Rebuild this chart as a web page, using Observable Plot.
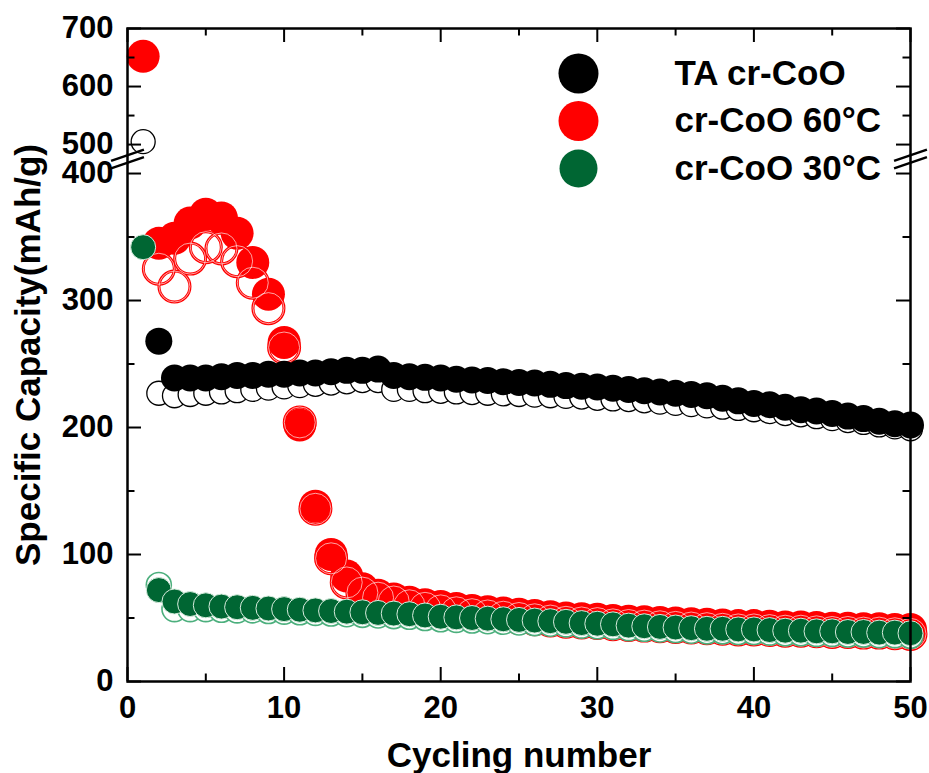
<!DOCTYPE html>
<html>
<head>
<meta charset="utf-8">
<script src="https://cdn.jsdelivr.net/npm/d3@7"></script>
<script src="https://cdn.jsdelivr.net/npm/@observablehq/plot@0.6"></script>
<style>
  html, body { margin: 0; padding: 0; background: #fff; }
  #chart { width: 929px; height: 773px; }
</style>
</head>
<body>
<div id="chart"></div>
<script>
// ---------- data ----------
const cycles = [1,2,3,4,5,6,7,8,9,10,11,12,13,14,15,16,17,18,19,20,21,22,23,24,25,26,27,28,29,30,31,32,33,34,35,36,37,38,39,40,41,42,43,44,45,46,47,48,49,50];

const taFilled = [null,268,239,239,239,240,241,241,242,242,243,243,244,245,245,246,241,240,239.5,239,238,237.5,237,236,235.5,235,234,233,232.5,232,231,230,229,228,227,226,225,223,221,219,218,216,214,213,211,209,207,205,203,202];
const taOpen = [505,227,225,226,227,228,229,230,231,232,233,234,235,236,237,237,230,230,229,228.5,228,227.5,227,226.5,226,225.5,225,224.5,224,223,222.5,222,221,220,219,218,217,216,215,214,212.5,211,210,208.5,207,205.5,204,202,200.5,199];

const c60Filled = [652,345,349,361,368,365,353,330,305,267,202,138,100,83,73,68,65,62.5,60.5,59,57.5,56,55,54,53,52,51,50,49.5,49,48,47.5,47,46.5,46,45.5,45,44.5,44,44,43.5,43,43,42.5,42,42,41.5,41.5,41,41];
const c60Open = [null,325,311,333,342,341,331,314,294,263,204,136,97,78,70,66,63,60,58,56,54.5,53,52,51,50,49,48,47,46.5,46,45,44.5,44,43.5,43,42.5,42,41.5,41,41,40.5,40,40,39.5,39,39,38.5,38.5,38,37.5];

const c30Filled = [342,72,63,61,60,59,58.5,58,57.5,57,56.5,56,55.5,55,54.5,54,53.5,53,52,51,50.5,50,49.5,49,48.5,48,47.5,47,46,45.5,45,44,43.5,43,42.5,42,41.5,41.5,41,41,40.5,40,40,39.5,39.5,39,39,38.5,38.5,38];
const c30Open = [null,76,57,57,57,56.5,56,56,55.5,55,54.5,54,53.5,53,52.5,52,51.5,51,50,49,48.5,48,47.5,47,46.5,46,45.5,45,44,43.5,43,42,41.5,41,40.5,40,39.5,39.5,39,39,38.5,38,38,37.5,37.5,37,37,36.5,36.5,36];

const legendLabels = ["TA cr-CoO", "cr-CoO 60°C", "cr-CoO 30°C"];
const legendColors = ["#000000", "#ff0000", "#006633"];

const xMajorTicks = [0,10,20,30,40,50];
const xMinorTicks = [5,15,25,35,45];
const yMajorTicks = [0,100,200,300,400,500,600,700];
const yMinorTicks = [50,150,250,350,550,650];
const yTickLabels = [0,100,200,300,400,500,600,700];

// ---------- broken y axis: 0–400 full scale, 500–700 compressed ----------
const BREAK_LO = 400, BREAK_HI = 500, UPPER_START = 422.8, UPPER_K = 0.457;
const yMap = v => v <= (BREAK_LO + BREAK_HI) / 2 ? v : UPPER_START + (v - BREAK_HI) * UPPER_K;
const Y_TOP = yMap(700);

function rows(values) {
  const out = [];
  values.forEach((v, i) => { if (v != null) out.push({cycle: cycles[i], cap: v, y: yMap(v)}); });
  return out;
}
const dTAf = rows(taFilled), dTAo = rows(taOpen);
const d60f = rows(c60Filled), d60o = rows(c60Open);
const d30f = rows(c30Filled), d30o = rows(c30Open);

// layout
const W = 929, H = 773;
const mL = 127, mR = 19, mT = 28, mB = 92;
const fw = W - mL - mR, fh = H - mT - mB;
const MAJ = 14, MIN = 7.5;
const FONT = "Liberation Sans, Arial, Helvetica, sans-serif";

// break marks (two slanted strokes on each vertical axis)
const breakMid = (BREAK_LO + UPPER_START) / 2;
const breakLines = [];
[0, 50].forEach(side => [3.0, -2.9].forEach(off => {
  breakLines.push({x1: side - 1.05, x2: side + 1.05, y1: breakMid + off - 4.4, y2: breakMid + off + 4.4});
}));

const bold = {fontWeight: "bold", fontFamily: FONT, fill: "black", lineAnchor: "middle"};

const marks = [
  // data: 60 °C
  Plot.dot(d60f, {x: "cycle", y: "y", r: 16.5, fill: "#ff0000", stroke: "none"}),
  Plot.dot(d60o, {x: "cycle", y: "y", r: 15.5, fill: "none", stroke: "#ff0000", strokeWidth: 3}),
  Plot.dot(d60o, {x: "cycle", y: "y", r: 15.5, fill: "none", stroke: "#ffffff", strokeWidth: 0.8, strokeOpacity: 0.8}),
  // TA
  Plot.dot(dTAo, {x: "cycle", y: "y", r: 12, fill: "white", stroke: "black", strokeWidth: 1.3}),
  Plot.dot(dTAf, {x: "cycle", y: "y", r: 13.5, fill: "black", stroke: "none"}),
  // 30 °C
  Plot.dot(d30o, {x: "cycle", y: "y", r: 12.5, fill: "white", stroke: "#4caf7d", strokeWidth: 1.6}),
  Plot.dot(d30f, {x: "cycle", y: "y", r: 12.5, fill: "#006633", stroke: "#d6ecdd", strokeWidth: 1}),

  // frame
  Plot.frame({stroke: "black", strokeWidth: 2.5}),

  // ticks (inward) bottom / top
  Plot.ruleX(xMajorTicks, {x: d => d, insetTop: fh - MAJ, stroke: "black", strokeWidth: 2}),
  Plot.ruleX(xMinorTicks, {x: d => d, insetTop: fh - MIN, stroke: "black", strokeWidth: 2}),
  Plot.ruleX(xMajorTicks, {x: d => d, insetBottom: fh - MAJ, stroke: "black", strokeWidth: 2}),
  Plot.ruleX(xMinorTicks, {x: d => d, insetBottom: fh - MIN, stroke: "black", strokeWidth: 2}),
  // ticks (inward) left / right
  Plot.ruleY(yMajorTicks, {y: d => yMap(d), insetRight: fw - MAJ, stroke: "black", strokeWidth: 2}),
  Plot.ruleY(yMinorTicks, {y: d => yMap(d), insetRight: fw - MIN, stroke: "black", strokeWidth: 2}),
  Plot.ruleY(yMajorTicks, {y: d => yMap(d), insetLeft: fw - MAJ, stroke: "black", strokeWidth: 2}),
  Plot.ruleY(yMinorTicks, {y: d => yMap(d), insetLeft: fw - MIN, stroke: "black", strokeWidth: 2}),

  // axis break marks
  Plot.link(breakLines, {x1: "x1", y1: "y1", x2: "x2", y2: "y2", stroke: "black", strokeWidth: 2.5}),

  // tick labels
  Plot.text(xMajorTicks, {x: d => d, text: d => String(d), frameAnchor: "bottom", dy: 27, fontSize: 31, textAnchor: "middle", ...bold}),
  Plot.text(yTickLabels, {y: d => yMap(d), text: d => String(d), frameAnchor: "left", dx: -14, textAnchor: "end", fontSize: 31, ...bold}),

  // axis titles
  Plot.text(["Cycling number"], {text: d => d, frameAnchor: "bottom", dy: 74, fontSize: 35, textAnchor: "middle", ...bold}),
  Plot.text(["Specific Capacity(mAh/g)"], {text: d => d, frameAnchor: "left", dx: -99, rotate: -90, fontSize: 35, textAnchor: "middle", ...bold}),
];

// legend inside the plot
legendLabels.forEach((lab, i) => {
  marks.push(Plot.dot([lab], {frameAnchor: "top-left", dx: 578 - mL, dy: 73 - mT + i * 47.5, r: i === 2 ? 19 : 20, fill: legendColors[i], stroke: "none"}));
  marks.push(Plot.text([lab], {text: d => d, frameAnchor: "top-left", dx: 674 - mL, dy: 73 - mT + i * 47.5, textAnchor: "start", fontSize: 35, ...bold}));
});

const chart = Plot.plot({
  width: W, height: H,
  marginLeft: mL, marginRight: mR, marginTop: mT, marginBottom: mB,
  style: {fontFamily: FONT, background: "white", overflow: "visible"},
  x: {domain: [0, 50], axis: null},
  y: {domain: [0, Y_TOP], axis: null},
  marks
});
document.getElementById("chart").appendChild(chart);
</script>
</body>
</html>
